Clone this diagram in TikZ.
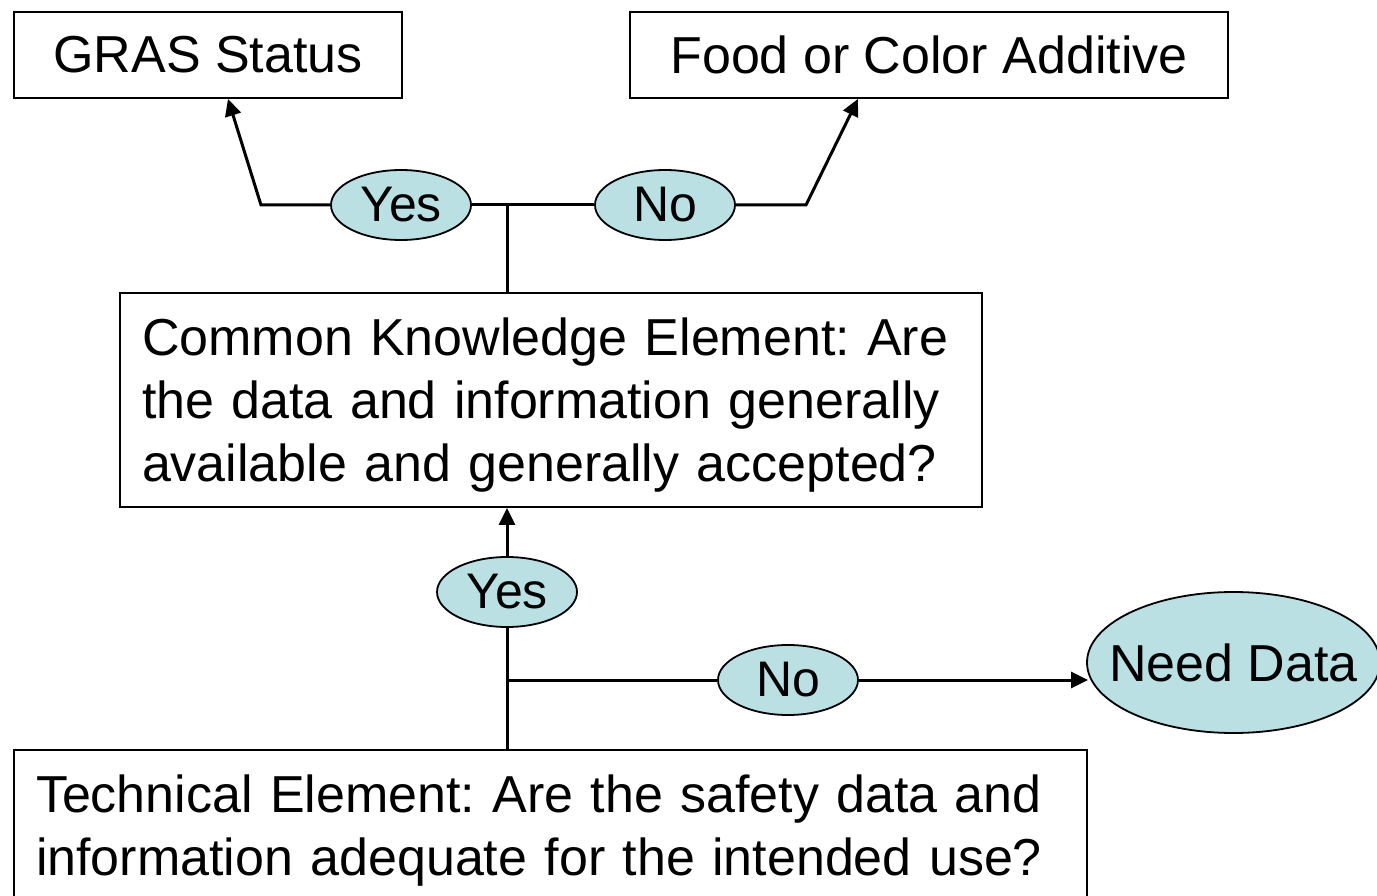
\documentclass[tikz,border=0pt]{standalone}
\usepackage{fontspec}
\setmainfont{Liberation Sans}
\usetikzlibrary{shapes.geometric,arrows.meta}
\definecolor{bubble}{RGB}{186,224,227}
\tikzset{
  box/.style={draw=black, line width=1.8pt, inner xsep=22pt, inner ysep=0pt, align=left,
    font=\fontsize{52}{63}\selectfont\frenchspacing},
  bub/.style={ellipse, draw=black, line width=1.8pt, fill=bubble, inner sep=0pt,
    minimum width=140pt, minimum height=70pt, font=\fontsize{50}{60}\selectfont},
  conn/.style={line width=3pt},
  arr/.style={line width=3pt, -{Triangle[length=17pt,width=16pt]}}
}
\begin{document}
\begin{tikzpicture}[x=1pt,y=-1pt]
\useasboundingbox (0,0) rectangle (1377,896);
\node[box, minimum width=388pt, minimum height=86pt, align=center, inner xsep=0pt] (gras) at (208,55) {GRAS Status};
\node[box, minimum width=598pt, minimum height=86pt, align=center, inner xsep=0pt] (food) at (929,55) {Food or Color Additive};
\node[box, minimum width=862pt, minimum height=214pt, text width=818pt] (ck) at (551,400)
  {\rule{0pt}{48pt}Common Knowledge Element: Are\\the data and information generally\\available and generally accepted?};
\node[box, minimum width=1073pt, minimum height=162pt, text width=1029pt] (tech) at (550.5,831)
  {Technical Element: Are the safety data and\\information adequate for the intended use?};
\node[bub] (yes1) at (401,205) {Yes};
\node[bub] (no1) at (665,205) {No};
\node[bub] (yes2) at (507,592) {Yes};
\node[bub] (no2) at (788,680) {No};
\node[bub, minimum width=293pt, minimum height=141pt, font=\fontsize{52}{62}\selectfont] (need) at (1233.5,662.5) {\makebox[0pt]{Need Data}};
\coordinate (j1) at (507,205);
\coordinate (c1) at (261,205);
\coordinate (c2) at (806,205);
\coordinate (j2) at (507,680);
\draw[conn] (yes1.east) -- (no1.west);
\draw[conn] (j1) -- (j1 |- ck.north);
\draw[arr] (yes1.west) -- (c1) -- ([xshift=20pt]gras.south);
\draw[arr] (no1.east) -- (c2) -- ([xshift=-71pt]food.south);
\draw[arr] (yes2.north) -- (yes2.north |- ck.south);
\draw[conn] (yes2.south) -- (yes2.south |- tech.north);
\draw[conn] (j2) -- (no2.west);
\draw[arr] (no2.east) -- ([xshift=2pt]no2.east -| need.west);
\end{tikzpicture}
\end{document}
